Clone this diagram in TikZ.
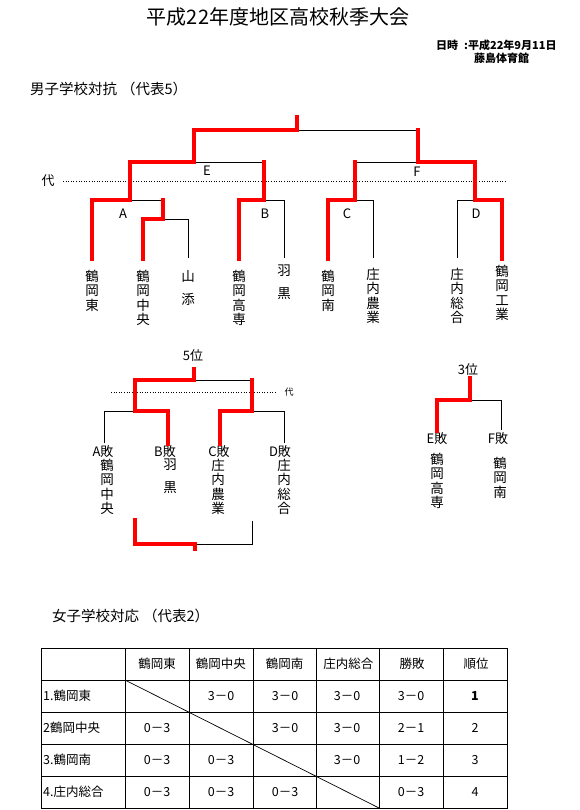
\documentclass[tikz,border=0pt]{standalone}
\usepackage{fontspec}
\setmainfont{Noto Sans CJK JP}
\begin{document}
\begin{tikzpicture}[x=1pt,y=-1pt,
  redline/.style={draw=red, line width=4.5pt, line cap=rect, line join=miter},
  thinline/.style={draw=black, line width=0.9pt},
  dotline/.style={draw=black, line width=0.8pt, dash pattern=on 1pt off 1.6pt},
  lbl/.style={font=\fontsize{13}{14}\selectfont, inner sep=0pt},
  vname/.style={font=\fontsize{13.5}{14.3}\selectfont, inner sep=0pt, align=center, anchor=north},
  cell/.style={font=\fontsize{12.5}{14}\selectfont, inner sep=0pt},
  heading/.style={font=\fontsize{14.5}{16}\selectfont, anchor=west, inner sep=0pt}]
\useasboundingbox (0,0) rectangle (580,810);

% ---- titles ----
\node[font=\fontsize{20}{22}\selectfont, inner sep=0pt] (title) at (278,17) {平成22年度地区高校秋季大会};
\node[font=\fontsize{11}{12}\selectfont\bfseries, anchor=west, inner sep=0pt] (date) at (436,45) {日時\hspace{6pt}:平成22年9月11日};
\node[font=\fontsize{11}{12}\selectfont\bfseries, anchor=west, inner sep=0pt] (venue) at (474,58) {藤島体育館};
\node[heading] (boys) at (30,89) {男子学校対抗\hspace{4pt}（代表5）};

% ---- main bracket: black lines ----
\draw[thinline] (194,130) -- (418,130);
\draw[thinline] (130,162) -- (264,162);
\draw[thinline] (355,162) -- (475,162);
\draw[thinline] (92,200) -- (163,200);
\draw[thinline] (163,219) -- (188,219) -- (188,258);
\draw[thinline] (239,200) -- (284,200) -- (284,258);
\draw[thinline] (328,200) -- (373,200) -- (373,258);
\draw[thinline] (457,258) -- (457,200) -- (502,200);
\draw[dotline] (63,181) -- (507,181);
\node[lbl] (dai1) at (48,181) {代};

\node[lbl] (E) at (207,171) {E};
\node[lbl] (F) at (417,172) {F};
\node[lbl] (A) at (123,214) {A};
\node[lbl] (B) at (265,214) {B};
\node[lbl] (C) at (347,214) {C};
\node[lbl] (D) at (476,214) {D};

\node[vname] (n1) at (92,270) {鶴\\岡\\東};
\node[vname] (n2) at (143,270) {鶴\\岡\\中\\央};
\node[vname] (n3) at (188,270) {山\\[9pt]添};
\node[vname] (n4) at (239,270) {鶴\\岡\\高\\専};
\node[vname] (n5) at (284,265) {羽\\[8pt]黒};
\node[vname] (n6) at (328,270) {鶴\\岡\\南};
\node[vname] (n7) at (373,268) {庄\\内\\農\\業};
\node[vname] (n8) at (457,268) {庄\\内\\総\\合};
\node[vname] (n9) at (502,265) {鶴\\岡\\工\\業};

% ---- main bracket: red lines ----
\draw[redline] (297,117) -- (297,130) -- (194,130) -- (194,162) -- (130,162) -- (130,200) -- (92,200) -- (92,259);
\draw[redline] (163,200) -- (163,219) -- (143,219) -- (143,259);
\draw[redline] (264,162) -- (264,200) -- (239,200) -- (239,259);
\draw[redline] (418,130) -- (418,162) -- (475,162) -- (475,200) -- (502,200) -- (502,259);
\draw[redline] (355,162) -- (355,200) -- (328,200) -- (328,259);

% ---- 5th place ----
\node[lbl] (p5) at (193,356) {5位};
\draw[thinline] (194,380) -- (252,380);
\draw[thinline] (104,443) -- (104,411) -- (135,411);
\draw[thinline] (252,411) -- (284,411) -- (284,443);
\draw[thinline] (195,544) -- (252,544) -- (252,521);
\draw[dotline] (111,392) -- (275,392);
\node[font=\fontsize{9}{10}\selectfont, inner sep=0pt] (dai2) at (289,392) {代};

\node[lbl] (la) at (103,452) {A敗};
\node[lbl] (lb) at (165,452) {B敗};
\node[lbl] (lc) at (219,452) {C敗};
\node[lbl] (ld) at (280,452) {D敗};
\node[vname] (m1) at (107,459) {鶴\\岡\\中\\央};
\node[vname] (m2) at (170,459) {羽\\[8pt]黒};
\node[vname] (m3) at (218,459) {庄\\内\\農\\業};
\node[vname] (m4) at (284,459) {庄\\内\\総\\合};

\draw[redline] (194,369) -- (194,380) -- (135,380) -- (135,411) -- (168,411) -- (168,444);
\draw[redline] (252,380) -- (252,411) -- (220,411) -- (220,444);
\draw[redline] (135,520) -- (135,544) -- (195,544) -- (195,549);

% ---- 3rd place ----
\node[lbl] (p3) at (468,370) {3位};
\draw[thinline] (470,400) -- (501,400) -- (501,430);
\node[lbl] (le) at (437,439) {E敗};
\node[lbl] (lf) at (498,439) {F敗};
\node[vname] (k1) at (437,453) {鶴\\岡\\高\\専};
\node[vname] (k2) at (500,457) {鶴\\岡\\南};
\draw[redline] (470,378) -- (470,400) -- (437,400) -- (437,431);

% ---- girls table ----
\node[heading] (girls) at (52,616) {女子学校対応\hspace{4pt}（代表2）};
\draw[thinline] (41,648) rectangle (507,808);
\foreach \yy in {680,712,744,776} \draw[thinline] (41,\yy) -- (507,\yy);
\foreach \xx in {125,189,253,316,379,443} \draw[thinline] (\xx,648) -- (\xx,808);
\draw[black, line width=0.7pt] (125,680) -- (379,808);

\foreach \t [count=\i] in {鶴岡東,鶴岡中央,鶴岡南,庄内総合,勝敗,順位}
  \node[cell] (h\i) at ({125+64*(\i-1)-0.2*(\i-1)+32},664) {\t};
\foreach \t [count=\i] in {1.鶴岡東,2鶴岡中央,3.鶴岡南,4.庄内総合}
  \node[cell, anchor=west] (r\i) at (43,{664+32*\i}) {\t};

\foreach \xx/\t [count=\i] in {221/3－0,285/3－0,347/3－0,411/3－0}
  \node[cell] (a\i) at (\xx,696) {\t};
\node[cell, font=\fontsize{12.5}{14}\selectfont\bfseries] (a5) at (475,696) {1};
\foreach \xx/\t [count=\i] in {157/0－3,285/3－0,347/3－0,411/2－1,475/2}
  \node[cell] (b\i) at (\xx,728) {\t};
\foreach \xx/\t [count=\i] in {157/0－3,221/0－3,347/3－0,411/1－2,475/3}
  \node[cell] (c\i) at (\xx,760) {\t};
\foreach \xx/\t [count=\i] in {157/0－3,221/0－3,285/0－3,411/0－3,475/4}
  \node[cell] (d\i) at (\xx,792) {\t};
\end{tikzpicture}
\end{document}
